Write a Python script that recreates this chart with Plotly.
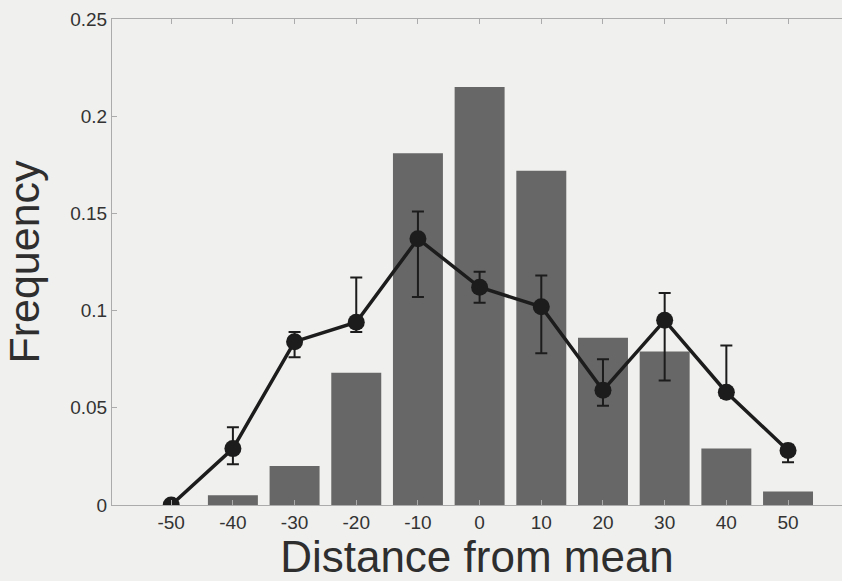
import plotly.graph_objects as go

# Data
distance = [-50, -40, -30, -20, -10, 0, 10, 20, 30, 40, 50]
bar_freq = [0.0, 0.005, 0.020, 0.068, 0.181, 0.215, 0.172, 0.086, 0.079, 0.029, 0.007]
mean_freq = [0.0, 0.029, 0.084, 0.094, 0.137, 0.112, 0.102, 0.059, 0.095, 0.058, 0.028]
err_plus = [0.0, 0.011, 0.005, 0.023, 0.014, 0.008, 0.016, 0.016, 0.014, 0.024, 0.003]
err_minus = [0.0, 0.008, 0.008, 0.005, 0.030, 0.008, 0.024, 0.008, 0.031, 0.003, 0.006]

y_tickvals = [0, 0.05, 0.1, 0.15, 0.2, 0.25]
y_ticktext = ["0", "0.05", "0.1", "0.15", "0.2", "0.25"]
x_tickvals = distance
x_ticktext = [str(v) for v in distance]

BG = "#f0f0ee"
AXIS = "#ababab"
FONT = "Liberation Sans, Arial, sans-serif"

fig = go.Figure()
fig.add_trace(go.Bar(
    x=distance, y=bar_freq, width=8.1,
    marker=dict(color="#676767", line=dict(width=0)),
    showlegend=False,
))
fig.add_trace(go.Scatter(
    x=distance, y=mean_freq, mode="lines+markers",
    line=dict(color="#1c1c1c", width=3.5),
    marker=dict(color="#1c1c1c", size=17),
    error_y=dict(type="data", symmetric=False, array=err_plus, arrayminus=err_minus,
                 color="#1c1c1c", thickness=2, width=6),
    showlegend=False,
))

fig.update_layout(
    width=842, height=581,
    margin=dict(l=112, r=0, t=19, b=76),
    paper_bgcolor=BG, plot_bgcolor=BG,
    font=dict(family=FONT, color="#333333"),
    xaxis=dict(
        range=[-59.6, 58.75], tickvals=x_tickvals, ticktext=x_ticktext,
        showgrid=False, zeroline=False, showline=True, linecolor=AXIS, linewidth=1,
        mirror="ticks", ticks="inside", ticklen=5, tickcolor=AXIS,
        tickfont=dict(size=19, color="#333333"),
        title=dict(text="Distance from mean", font=dict(size=44, color="#2e2e2e"), standoff=2),
    ),
    yaxis=dict(
        range=[0, 0.25], tickvals=y_tickvals, ticktext=y_ticktext,
        showgrid=False, zeroline=False, showline=True, linecolor=AXIS, linewidth=1,
        mirror=False, ticks="inside", ticklen=5, tickcolor=AXIS,
        tickfont=dict(size=19, color="#333333"),
        title=dict(text="Frequency", font=dict(size=43, color="#2e2e2e"), standoff=18),
    ),
)

fig.write_html("out.html")
